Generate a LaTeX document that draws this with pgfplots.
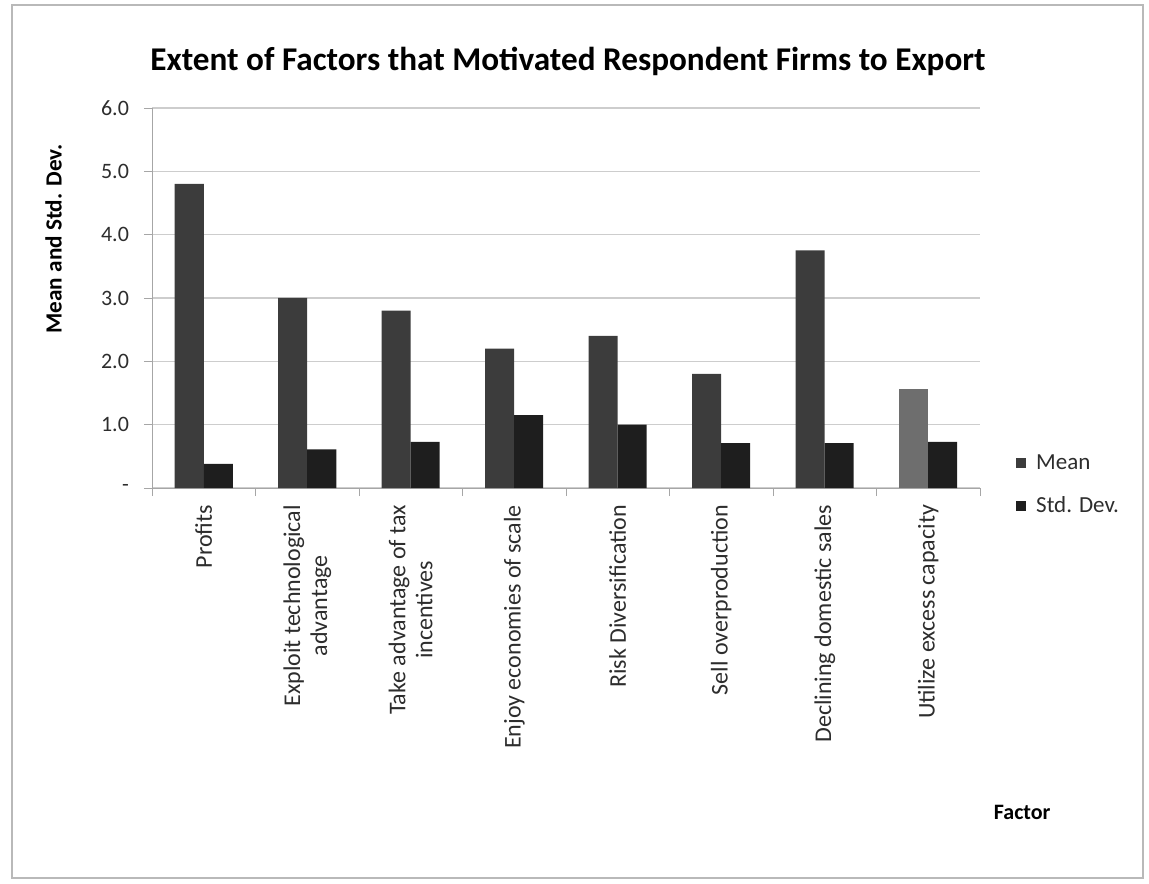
\documentclass[border=0pt]{standalone}
\usepackage{pgfplots}
\pgfplotsset{compat=1.18}
\usepackage{fontspec}
\setmainfont{Carlito}

\definecolor{meangray}{RGB}{60,60,60}
\definecolor{sdgray}{RGB}{30,30,30}
\definecolor{lightmean}{RGB}{110,110,110}
\definecolor{txt}{RGB}{45,45,45}
\definecolor{gridc}{RGB}{205,205,205}

\begin{document}
\begin{tikzpicture}
\useasboundingbox (0,0) rectangle (574.5pt,441.5pt);
\draw[gray!55, line width=0.8pt] (6pt,2.5pt) rectangle (571.5pt,439pt);
\node[font=\fontsize{16.6}{19}\selectfont\bfseries] at (284pt,411pt)
  {Extent of Factors that Motivated Respondent Firms to Export};
\begin{axis}[
  at={(76pt,197.5pt)}, anchor=south west,
  scale only axis, width=414pt, height=190pt,
  ybar, bar width=14.5pt,
  xmin=-0.5, xmax=7.5, ymin=0, ymax=6,
  axis x line*=bottom, axis y line*=left,
  axis line style={gray!70, -},
  tick align=outside,
  ytick={0,...,6},
  yticklabels={-,1.0,2.0,3.0,4.0,5.0,6.0},
  yticklabel style={font=\fontsize{11}{13}\selectfont, text=txt, xshift=-4pt},
  major tick length=4pt,
  major y tick style={gray!70},
  ymajorgrids, grid style={gridc, line width=0.6pt},
  xtick={0,...,7},
  xticklabels={Profits, {Exploit technological\\advantage}, {Take advantage of tax\\incentives},
    Enjoy economies of scale, Risk Diversification, Sell overproduction,
    Declining domestic sales, Utilize excess capacity},
  xticklabel style={rotate=90, anchor=east, align=center,
    font=\fontsize{12}{13.5}\selectfont, text=txt, xshift=-1pt},
  major x tick style={draw=none},
  minor xtick={-0.5,0.5,...,7.5},
  minor tick length=4pt,
  minor x tick style={gray!70},
  ylabel={Mean and Std. Dev.},
  ylabel style={at={(axis description cs:-0.119,0.655)}, anchor=center,
    font=\fontsize{11.6}{13}\selectfont\bfseries},
  xlabel={Factor},
  xlabel style={at={(axis description cs:1.051,-0.853)}, anchor=center,
    font=\fontsize{11}{13}\selectfont\bfseries},
  legend style={at={(axis description cs:1.036,0.008)}, anchor=west,
    draw=none, fill=none, font=\fontsize{11.5}{13}\selectfont, text=txt,
    row sep=8pt, cells={anchor=west},
    /tikz/every odd column/.append style={column sep=3pt}},
  legend image code/.code={\fill[#1] (0pt,-2.5pt) rectangle (5pt,2.5pt);},
]
\addplot[fill=meangray, draw=none, bar shift=-7.25pt] coordinates {
  (0,4.8) (1,3.0) (2,2.8) (3,2.2) (4,2.4) (5,1.8) (6,3.75)
};
\addplot[fill=sdgray, draw=none, bar shift=7.25pt] coordinates {
  (0,0.38) (1,0.61) (2,0.73) (3,1.15) (4,1.0) (5,0.71) (6,0.71) (7,0.73)
};
\addplot[fill=lightmean, draw=none, bar shift=-7.25pt, forget plot] coordinates {
  (7,1.56)
};
\legend{Mean, Std. Dev.}
\end{axis}
\end{tikzpicture}
\end{document}
